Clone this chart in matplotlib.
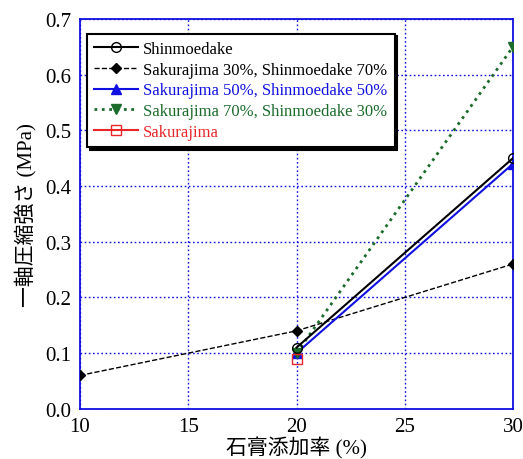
import matplotlib
matplotlib.use("Agg")
import matplotlib.pyplot as plt

plt.rcParams['font.family'] = ['Liberation Serif', 'Noto Sans CJK JP']

x_shin = [20, 30]
y_shin = [0.11, 0.45]
x_s30 = [10, 20, 30]
y_s30 = [0.06, 0.14, 0.26]
x_s50 = [20, 30]
y_s50 = [0.10, 0.44]
x_s70 = [20, 30]
y_s70 = [0.10, 0.65]
x_sak = [20]
y_sak = [0.09]

labels = ["Shinmoedake", "Sakurajima 30%, Shinmoedake 70%",
          "Sakurajima 50%, Shinmoedake 50%", "Sakurajima 70%, Shinmoedake 30%",
          "Sakurajima"]
xticks = [10, 15, 20, 25, 30]
yticks = [0.0, 0.1, 0.2, 0.3, 0.4, 0.5, 0.6, 0.7]

green = '#1b6b2b'
red = '#e8262a'
blue = '#1010e0'

fig = plt.figure(figsize=(5.23, 4.6), dpi=100)
ax = fig.add_axes([0.153, 0.109, 0.828, 0.848])

ax.plot(x_shin, y_shin, '-', color='black', lw=1.5, marker='o', mfc='none', mec='black', ms=7, label=labels[0], zorder=5)
ax.plot(x_s30, y_s30, '--', color='black', lw=1.0, marker='D', mfc='black', mec='black', ms=5.5, label=labels[1], zorder=4)
ax.plot(x_s50, y_s50, '-', color=blue, lw=1.5, marker='^', mfc=blue, mec=blue, ms=6.5, label=labels[2], zorder=4)
ax.plot(x_s70, y_s70, ':', color=green, lw=2.0, marker='v', mfc=green, mec=green, ms=6.5, label=labels[3], zorder=4)
ax.plot(x_sak, y_sak, '-', color=red, lw=1.5, marker='s', mfc='none', mec=red, ms=6.5, label=labels[4], zorder=6)

ax.set_xlim(10, 30)
ax.set_ylim(0, 0.7)
ax.set_xticks(xticks)
ax.set_yticks(yticks)
ax.set_xticklabels([str(v) for v in xticks])
ax.set_yticklabels([f"{v:.1f}" for v in yticks])
ax.tick_params(axis='both', labelsize=15, direction='in', length=0, pad=6)
ax.grid(True, color=blue, linestyle=(0, (1.2, 1.8)), lw=1.0)
for s in ax.spines.values():
    s.set_color(blue)
    s.set_linewidth(1.3)

ax.set_xlabel('石膏添加率 (%)', fontsize=15, labelpad=0)
ax.set_ylabel('一軸圧縮強さ (MPa)', fontsize=15, labelpad=6)

leg = ax.legend(loc='upper left', bbox_to_anchor=(0.016, 0.962), borderaxespad=0, fontsize=12,
                frameon=True, fancybox=False, shadow={'color': 'black', 'alpha': 1.0},
                edgecolor='black', handlelength=2.6, borderpad=0.45, labelspacing=0.28,
                handletextpad=0.3)
leg.get_frame().set_linewidth(1.5)
for txt, c in zip(leg.get_texts(), ['black', 'black', blue, green, red]):
    txt.set_color(c)

fig.savefig('out.png', dpi=100)
